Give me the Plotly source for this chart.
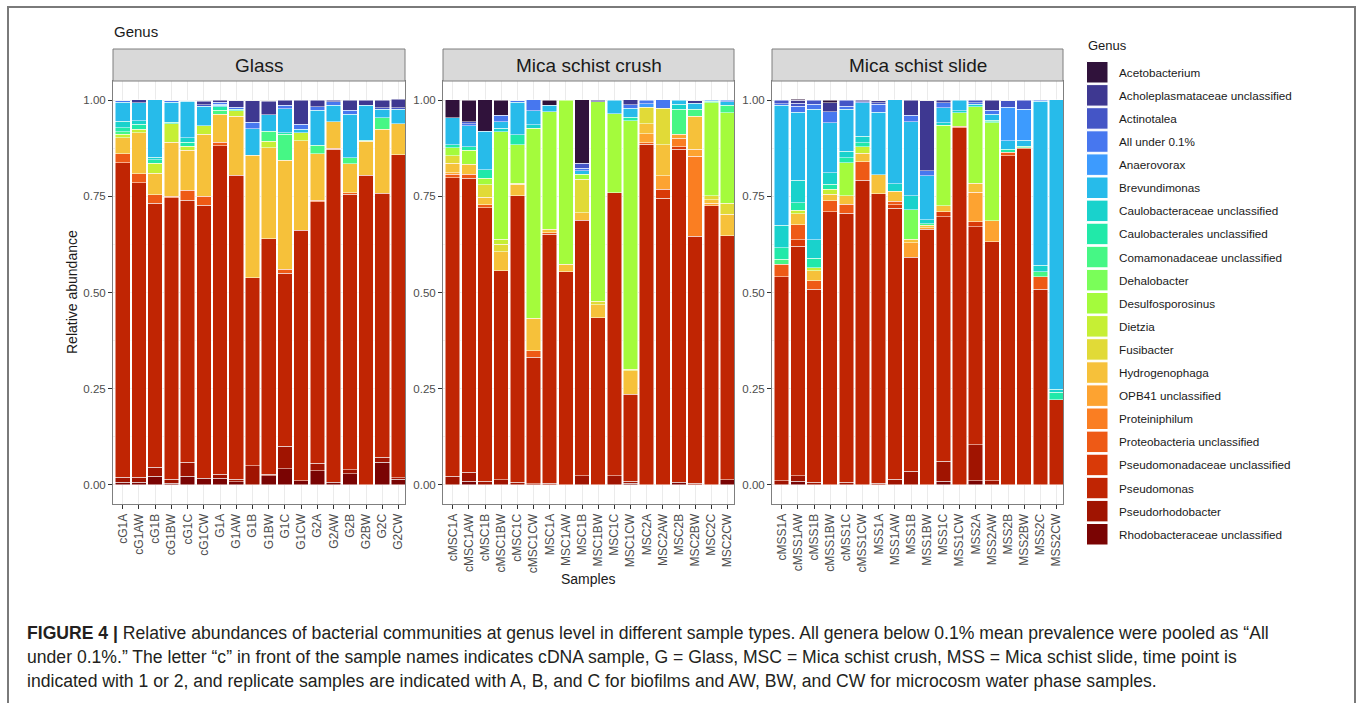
import plotly.graph_objects as go

W, H = 1358, 703

genera = [
    "Acetobacterium", "Acholeplasmataceae unclassified", "Actinotalea", "All under 0.1%",
    "Anaerovorax", "Brevundimonas", "Caulobacteraceae unclassified", "Caulobacterales unclassified",
    "Comamonadaceae unclassified", "Dehalobacter", "Desulfosporosinus", "Dietzia", "Fusibacter",
    "Hydrogenophaga", "OPB41 unclassified", "Proteiniphilum", "Proteobacteria unclassified",
    "Pseudomonadaceae unclassified", "Pseudomonas", "Pseudorhodobacter", "Rhodobacteraceae unclassified",
]
colors = [
    "#30123B", "#3E3891", "#4455C6", "#4777EF", "#3D9BFE", "#27BBEA", "#19D2CC", "#21E9A9",
    "#46F785", "#7AFE59", "#A4FB3C", "#C6EF34", "#E1DA37", "#F6C13A", "#FDA331", "#FA7E22",
    "#EE5A16", "#D93A08", "#C02503", "#A01401", "#7A0403",
]

panels = ["Glass", "Mica schist crush", "Mica schist slide"]
samples_glass = ["cG1A", "cG1AW", "cG1B", "cG1BW", "cG1C", "cG1CW", "G1A", "G1AW", "G1B",
                 "G1BW", "G1C", "G1CW", "G2A", "G2AW", "G2B", "G2BW", "G2C", "G2CW"]
samples_msc = ["cMSC1A", "cMSC1AW", "cMSC1B", "cMSC1BW", "cMSC1C", "cMSC1CW", "MSC1A", "MSC1AW",
               "MSC1B", "MSC1BW", "MSC1C", "MSC1CW", "MSC2A", "MSC2AW", "MSC2B", "MSC2BW", "MSC2C", "MSC2CW"]
samples_mss = ["cMSS1A", "cMSS1AW", "cMSS1B", "cMSS1BW", "cMSS1C", "cMSS1CW", "MSS1A", "MSS1AW",
               "MSS1B", "MSS1BW", "MSS1C", "MSS1CW", "MSS2A", "MSS2AW", "MSS2B", "MSS2BW", "MSS2C", "MSS2CW"]

# relative abundances per genus: 18 Glass samples, 18 MSC samples, 18 MSS samples
acetobacterium = [0, 0, 0, 0, 0, 0, 0, 0, 0, 0, 0, 0, 0, 0, 0, 0, 0, 0,
                  0.046, 0.056, 0.082, 0.039, 0, 0, 0.013, 0, 0.165, 0, 0, 0, 0, 0, 0, 0, 0, 0,
                  0, 0.003, 0, 0.007, 0, 0, 0, 0, 0, 0, 0, 0, 0, 0, 0, 0, 0, 0]
acholeplasmataceae = [0, 0.007, 0, 0, 0, 0.010, 0.005, 0.017, 0.056, 0.036, 0.013, 0.062, 0.017, 0.004, 0.026, 0.013, 0.019, 0.022,
                      0, 0, 0, 0, 0, 0, 0, 0, 0, 0.004, 0, 0.013, 0, 0, 0, 0.007, 0, 0,
                      0, 0.008, 0, 0.023, 0, 0.004, 0.005, 0, 0.039, 0.182, 0.007, 0, 0, 0.026, 0, 0, 0, 0]
actinotalea = [0, 0, 0, 0, 0, 0.004, 0, 0, 0, 0, 0, 0, 0, 0, 0, 0, 0.004, 0.003,
               0, 0.005, 0, 0, 0, 0, 0, 0, 0.013, 0, 0, 0, 0, 0, 0, 0, 0, 0,
               0.009, 0.007, 0.010, 0, 0.015, 0, 0.005, 0, 0, 0, 0, 0, 0.007, 0, 0.017, 0.023, 0, 0]
all_under = [0.004, 0, 0, 0.004, 0.002, 0, 0.005, 0.006, 0.017, 0, 0.009, 0.014, 0.009, 0.009, 0.010, 0, 0, 0,
             0, 0.006, 0, 0.017, 0.004, 0.028, 0, 0, 0.006, 0, 0, 0.009, 0.009, 0.022, 0, 0, 0, 0.004,
             0.004, 0.016, 0.013, 0.029, 0.009, 0.003, 0.020, 0, 0.017, 0.013, 0.013, 0, 0.004, 0.010, 0, 0, 0.003, 0]
anaerovorax = [0, 0, 0, 0, 0, 0, 0.003, 0, 0, 0, 0, 0, 0, 0, 0, 0, 0, 0,
               0, 0, 0, 0, 0, 0, 0, 0, 0, 0, 0, 0, 0.009, 0, 0, 0, 0.003, 0,
               0, 0, 0, 0, 0, 0, 0, 0, 0, 0, 0, 0, 0, 0, 0.088, 0.081, 0, 0]
brevundimonas = [0.050, 0.047, 0.149, 0.052, 0.095, 0.050, 0.004, 0, 0.069, 0.043, 0.063, 0.008, 0.091, 0.043, 0.113, 0.091, 0.022, 0.038,
                 0.071, 0.054, 0.100, 0.017, 0.085, 0.037, 0.017, 0, 0.009, 0, 0.035, 0.023, 0, 0, 0.010, 0.016, 0, 0.009,
                 0.312, 0.177, 0.340, 0.129, 0.109, 0.087, 0.163, 0.218, 0.193, 0.115, 0.039, 0.028, 0, 0.016, 0.022, 0.016, 0.426, 0.752]
caulobacteraceae = [0.016, 0.009, 0.007, 0, 0.011, 0, 0, 0, 0, 0, 0, 0, 0, 0, 0, 0, 0, 0,
                    0, 0, 0, 0.009, 0, 0.009, 0, 0, 0, 0, 0, 0, 0, 0, 0.013, 0, 0, 0,
                    0.059, 0.059, 0.048, 0.031, 0.017, 0.017, 0, 0.020, 0.036, 0.010, 0.006, 0.005, 0.006, 0, 0, 0, 0.017, 0.008]
caulobacterales = [0.011, 0.014, 0.009, 0.004, 0.011, 0, 0.009, 0.004, 0, 0, 0.004, 0, 0, 0, 0, 0.003, 0, 0,
                   0.007, 0.009, 0.022, 0, 0.026, 0, 0, 0, 0, 0, 0, 0.009, 0, 0, 0, 0, 0, 0,
                   0.030, 0.019, 0.024, 0.013, 0.012, 0.010, 0, 0, 0, 0, 0, 0, 0, 0.004, 0.007, 0, 0, 0.020]
comamonadaceae = [0.007, 0, 0, 0, 0, 0, 0.010, 0, 0, 0.026, 0.067, 0, 0.022, 0, 0.016, 0, 0.031, 0,
                  0, 0, 0, 0, 0, 0, 0, 0, 0, 0, 0, 0, 0, 0, 0.065, 0.018, 0.003, 0.020,
                  0.012, 0, 0, 0, 0, 0, 0, 0, 0, 0.004, 0, 0, 0, 0.003, 0, 0.003, 0.013, 0]
dehalobacter = [0, 0, 0, 0, 0, 0, 0, 0, 0, 0, 0, 0, 0, 0, 0, 0, 0, 0,
                0, 0, 0, 0, 0, 0, 0, 0, 0, 0, 0, 0, 0, 0, 0, 0, 0, 0,
                0, 0, 0, 0, 0, 0, 0, 0, 0.076, 0, 0, 0, 0, 0, 0, 0, 0, 0]
desulfosporosinus = [0, 0, 0, 0, 0, 0, 0, 0, 0, 0, 0, 0, 0, 0, 0, 0, 0, 0,
                     0.022, 0.036, 0.017, 0.279, 0.100, 0.494, 0.306, 0.427, 0.014, 0.519, 0.206, 0.646, 0, 0, 0, 0, 0.242, 0.235,
                     0, 0, 0, 0, 0.087, 0, 0, 0, 0, 0, 0.210, 0.035, 0.199, 0.255, 0, 0, 0, 0]
dietzia = [0.009, 0.009, 0.026, 0.048, 0.010, 0.023, 0, 0.014, 0, 0.017, 0, 0.022, 0, 0, 0, 0, 0, 0,
           0, 0, 0, 0.013, 0, 0, 0, 0, 0, 0, 0, 0, 0, 0, 0, 0, 0, 0,
           0, 0.009, 0.009, 0.013, 0, 0.017, 0, 0, 0, 0, 0, 0, 0, 0, 0, 0, 0, 0]
fusibacter = [0, 0, 0, 0, 0, 0, 0, 0, 0, 0, 0, 0, 0, 0, 0, 0, 0, 0,
              0.019, 0, 0.032, 0.020, 0.003, 0, 0, 0, 0.087, 0.009, 0, 0.004, 0.043, 0.095, 0, 0, 0.011, 0.028,
              0, 0, 0, 0, 0, 0, 0, 0, 0, 0, 0, 0, 0, 0, 0, 0, 0, 0]
hydrogenophaga = [0.041, 0.106, 0.056, 0.141, 0.104, 0.161, 0.073, 0.153, 0.319, 0.236, 0.284, 0.232, 0.121, 0.069, 0.076, 0.088, 0.166, 0.081,
                  0.024, 0.026, 0.020, 0.050, 0.029, 0.085, 0.009, 0.019, 0.019, 0.033, 0, 0.061, 0.026, 0.081, 0, 0.086, 0.009, 0.057,
                  0, 0.029, 0.025, 0.017, 0.021, 0.022, 0.049, 0.026, 0.009, 0.006, 0.015, 0, 0.023, 0, 0, 0, 0, 0]
opb41 = [0, 0, 0, 0, 0, 0, 0, 0, 0, 0, 0, 0, 0, 0, 0, 0, 0, 0,
         0.004, 0, 0, 0, 0, 0, 0, 0, 0, 0, 0, 0, 0.024, 0.035, 0.011, 0.018, 0.006, 0,
         0, 0, 0, 0, 0, 0, 0, 0, 0.038, 0.005, 0, 0, 0.077, 0.054, 0, 0, 0, 0]
proteiniphilum = [0, 0, 0, 0, 0, 0, 0, 0, 0, 0, 0, 0, 0, 0, 0, 0, 0, 0,
                  0, 0, 0, 0, 0, 0, 0, 0, 0, 0, 0, 0, 0, 0, 0.022, 0.208, 0, 0,
                  0, 0, 0, 0, 0, 0, 0, 0, 0, 0, 0, 0, 0, 0, 0, 0, 0, 0]
proteobacteria = [0.023, 0.023, 0.022, 0.003, 0.026, 0.023, 0.009, 0, 0, 0, 0.010, 0, 0.004, 0.003, 0.003, 0, 0, 0,
                  0.009, 0.011, 0.007, 0, 0, 0.016, 0.004, 0, 0, 0, 0, 0, 0.004, 0, 0, 0, 0, 0,
                  0.033, 0.039, 0.023, 0.028, 0.024, 0.048, 0, 0.009, 0, 0, 0, 0.003, 0, 0, 0.010, 0.003, 0.033, 0]
pseudomonadaceae = [0, 0, 0, 0, 0, 0, 0, 0, 0, 0, 0, 0, 0, 0, 0, 0, 0, 0,
                    0, 0, 0, 0, 0, 0, 0, 0, 0, 0, 0, 0, 0, 0.023, 0.007, 0, 0, 0,
                    0, 0.017, 0, 0, 0, 0, 0, 0.009, 0, 0, 0.013, 0, 0.013, 0, 0, 0, 0, 0]
pseudomonas = [0.818, 0.766, 0.687, 0.733, 0.682, 0.710, 0.854, 0.790, 0.488, 0.612, 0.450, 0.651, 0.680, 0.866, 0.717, 0.805, 0.686, 0.840,
               0.777, 0.765, 0.712, 0.543, 0.746, 0.329, 0.647, 0.554, 0.665, 0.435, 0.736, 0.227, 0.885, 0.745, 0.866, 0.642, 0.726, 0.634,
               0.530, 0.596, 0.502, 0.710, 0.699, 0.792, 0.753, 0.704, 0.557, 0.664, 0.636, 0.929, 0.567, 0.621, 0.855, 0.874, 0.508, 0.221]
pseudorhodobacter = [0.013, 0.013, 0.023, 0.010, 0.036, 0, 0.011, 0.007, 0.050, 0.005, 0.058, 0, 0.020, 0, 0.010, 0, 0.014, 0.003,
                     0.022, 0.023, 0.009, 0.013, 0.006, 0.003, 0.004, 0, 0.023, 0, 0.023, 0.005, 0, 0, 0, 0.004, 0, 0,
                     0.011, 0.015, 0.006, 0, 0.007, 0, 0.004, 0.015, 0.035, 0, 0.052, 0, 0.093, 0.011, 0, 0, 0, 0]
rhodobacteraceae = [0.007, 0.007, 0.022, 0.004, 0.022, 0.017, 0.017, 0.008, 0, 0.023, 0.042, 0.011, 0.036, 0.006, 0.029, 0, 0.058, 0.015,
                    0, 0.009, 0, 0, 0, 0, 0, 0, 0, 0, 0, 0.004, 0, 0, 0.006, 0, 0, 0.013,
                    0, 0.009, 0, 0, 0, 0, 0, 0, 0, 0, 0.009, 0, 0.011, 0, 0, 0, 0, 0]

series = [acetobacterium, acholeplasmataceae, actinotalea, all_under, anaerovorax, brevundimonas,
          caulobacteraceae, caulobacterales, comamonadaceae, dehalobacter, desulfosporosinus, dietzia,
          fusibacter, hydrogenophaga, opb41, proteiniphilum, proteobacteria, pseudomonadaceae,
          pseudomonas, pseudorhodobacter, rhodobacteraceae]
sample_sets = [samples_glass, samples_msc, samples_mss]

y_ticks = [0, 0.25, 0.5, 0.75, 1.0]
y_ticktext = ["0.00", "0.25", "0.50", "0.75", "1.00"]

FONT = "Liberation Sans, Arial, Helvetica, sans-serif"

# pixel layout
panel_x = [(113, 405), (443, 734), (772, 1063)]
plot_top, plot_bottom = 81, 504
strip_top = 49


def px(x):
    return x / W


def py(y):
    return 1 - y / H


fig = go.Figure()

for p, samples in enumerate(sample_sets):
    sfx = "" if p == 0 else str(p + 1)
    # ggplot stacks first factor level on top -> add last level first
    for gi in range(len(genera) - 1, -1, -1):
        vals = series[gi][p * 18:(p + 1) * 18]
        vals = [v if v > 0 else None for v in vals]
        fig.add_trace(go.Bar(
            x=samples, y=vals, name=genera[gi],
            marker=dict(color=colors[gi], line=dict(color="white", width=0.5)),
            width=0.9, showlegend=False,
            xaxis="x" + sfx, yaxis="y" + sfx,
        ))

layout = dict(
    width=W, height=H,
    margin=dict(l=0, r=0, t=0, b=0),
    paper_bgcolor="white", plot_bgcolor="white",
    barmode="stack", bargap=0.1,
    font=dict(family=FONT, color="#1A1A1A"),
    showlegend=False,
)

for p in range(3):
    sfx = "" if p == 0 else str(p + 1)
    x0, x1 = panel_x[p]
    layout["xaxis" + sfx] = dict(
        domain=[px(x0), px(x1)], anchor="y" + sfx, type="category",
        range=[-0.6, 17.4], categoryorder="array", categoryarray=sample_sets[p],
        showgrid=True, gridcolor="#EBEBEB", gridwidth=1,
        ticks="outside", ticklen=4, tickcolor="#333333", tickwidth=1,
        tickangle=-90, tickfont=dict(size=12, color="#4D4D4D"),
        showline=True, mirror=True, linecolor="#7F7F7F", linewidth=1,
        zeroline=False, fixedrange=True,
    )
    layout["yaxis" + sfx] = dict(
        domain=[py(plot_bottom), py(plot_top)], anchor="x" + sfx,
        range=[-0.05, 1.05], tickvals=y_ticks, ticktext=y_ticktext,
        showgrid=True, gridcolor="#EBEBEB", gridwidth=1,
        minor=dict(tickvals=[0.125, 0.375, 0.625, 0.875], showgrid=True, gridcolor="#F2F2F2", gridwidth=0.5),
        ticks="outside", ticklen=4, tickcolor="#333333", tickwidth=1,
        tickfont=dict(size=11.5, color="#4D4D4D"),
        showline=True, mirror=True, linecolor="#7F7F7F", linewidth=1,
        zeroline=False, fixedrange=True,
    )

shapes = []
annotations = []

# facet strips
for p in range(3):
    x0, x1 = panel_x[p]
    shapes.append(dict(type="rect", xref="paper", yref="paper",
                       x0=px(x0), x1=px(x1), y0=py(plot_top), y1=py(strip_top),
                       fillcolor="#D9D9D9", line=dict(color="#7F7F7F", width=1), layer="above"))
    annotations.append(dict(text=panels[p], xref="paper", yref="paper",
                            x=px((x0 + x1) / 2), y=py((plot_top + strip_top) / 2),
                            showarrow=False, xanchor="center", yanchor="middle",
                            font=dict(size=19, color="#1A1A1A")))

# titles
annotations.append(dict(text="Genus", xref="paper", yref="paper", x=px(112), y=py(32),
                        showarrow=False, xanchor="left", yanchor="middle",
                        font=dict(size=15, color="#1A1A1A")))
annotations.append(dict(text="Samples", xref="paper", yref="paper", x=px(588), y=py(579),
                        showarrow=False, xanchor="center", yanchor="middle",
                        font=dict(size=14, color="#1A1A1A")))
annotations.append(dict(text="Relative abundance", xref="paper", yref="paper", x=px(72), y=py(292),
                        showarrow=False, xanchor="center", yanchor="middle", textangle=-90,
                        font=dict(size=14, color="#1A1A1A")))

# legend (drawn manually, ggplot style keys)
annotations.append(dict(text="Genus", xref="paper", yref="paper", x=px(1086), y=py(46),
                        showarrow=False, xanchor="left", yanchor="middle",
                        font=dict(size=13, color="#1A1A1A")))
key_top, key_pitch, key_size = 61.5, 23.1, 21.5
for i, g in enumerate(genera):
    ty = key_top + i * key_pitch
    shapes.append(dict(type="rect", xref="paper", yref="paper",
                       x0=px(1086.5), x1=px(1108), y0=py(ty + key_size), y1=py(ty),
                       fillcolor=colors[i], line=dict(color="white", width=1)))
    annotations.append(dict(text=g, xref="paper", yref="paper", x=px(1116.5), y=py(ty + key_size / 2),
                            showarrow=False, xanchor="left", yanchor="middle",
                            font=dict(size=11.7, color="#1A1A1A")))

# outer frame
shapes.append(dict(type="rect", xref="paper", yref="paper",
                   x0=px(8), x1=px(1355), y0=py(720), y1=py(7),
                   line=dict(color="#7A7A7A", width=2), fillcolor="rgba(0,0,0,0)"))

# caption
caption = [
    "<b>FIGURE 4 |</b> Relative abundances of bacterial communities at genus level in different sample types. All genera below 0.1% mean prevalence were pooled as \u201cAll",
    "under 0.1%.\u201d The letter \u201cc\u201d in front of the sample names indicates cDNA sample, G = Glass, MSC = Mica schist crush, MSS = Mica schist slide, time point is",
    "indicated with 1 or 2, and replicate samples are indicated with A, B, and C for biofilms and AW, BW, and CW for microcosm water phase samples.",
]
for k, line in enumerate(caption):
    annotations.append(dict(text=line, xref="paper", yref="paper", x=px(25), y=py(633 + 24 * k),
                            showarrow=False, xanchor="left", yanchor="middle",
                            font=dict(size=17.6, color="#231F20")))

layout["shapes"] = shapes
layout["annotations"] = annotations
fig.update_layout(**layout)

fig.write_html("out.html", config={"displayModeBar": False},
               post_script="document.body.style.margin='0';document.body.style.overflow='hidden';")
